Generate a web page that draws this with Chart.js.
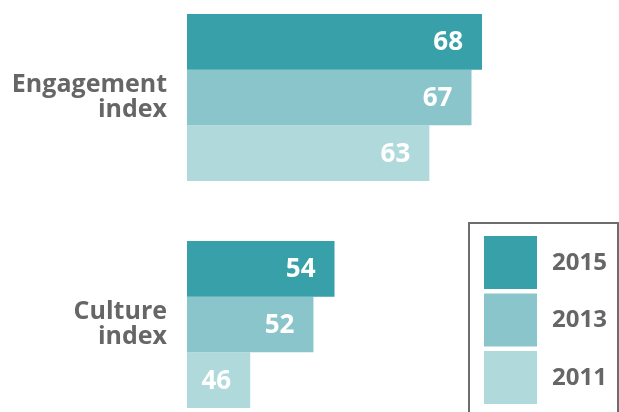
<!DOCTYPE html>
<html>
<head>
<meta charset="utf-8">
<script src="https://cdn.jsdelivr.net/npm/chart.js@4"></script>
<style>
  html, body { margin: 0; padding: 0; background: #fff; overflow: hidden; }
  .wrap { position: relative; width: 619px; height: 412px; overflow: hidden; }
  .chart-box { position: absolute; left: 0; top: -16px; width: 619px; height: 454px; }
</style>
</head>
<body>
<div class="wrap">
  <div class="chart-box"><canvas id="barChart"></canvas></div>
</div>
<script>
// データ
const categories = [['Engagement', 'index'], ['Culture', 'index']];
const years = ['2015', '2013', '2011'];
const values2015 = [68, 54];
const values2013 = [67, 52];
const values2011 = [63, 46];
const colors = ['#37a0a8', '#89c5ca', '#b0d9dc'];

const FONT = '"Open Sans", sans-serif';
const GREY = '#666666';

// バーの中に白い数値を描く
const valueLabels = {
  id: 'valueLabels',
  afterDatasetsDraw(chart) {
    const ctx = chart.ctx;
    ctx.save();
    ctx.font = 'bold 26px ' + FONT;
    ctx.fillStyle = '#fff';
    ctx.textAlign = 'right';
    ctx.textBaseline = 'middle';
    chart.data.datasets.forEach((ds, i) => {
      chart.getDatasetMeta(i).data.forEach((bar, j) => {
        ctx.fillText(String(ds.data[j]), bar.x - 19, bar.y + 1);
      });
    });
    ctx.restore();
  }
};

// 枠付きの凡例（右下）
const boxLegend = {
  id: 'boxLegend',
  afterDraw(chart) {
    const ctx = chart.ctx;
    const off = 16; // canvas is shifted up by 16px
    ctx.save();
    ctx.strokeStyle = '#6d6d6d';
    ctx.lineWidth = 2;
    ctx.strokeRect(469, 223 + off, 149, 240);
    ctx.font = 'bold 24px ' + FONT;
    ctx.textAlign = 'left';
    ctx.textBaseline = 'middle';
    chart.data.datasets.forEach((ds, i) => {
      const y = 236 + i * 57.5 + off;
      ctx.fillStyle = ds.backgroundColor;
      ctx.fillRect(484, y, 53, 53);
      ctx.fillStyle = GREY;
      ctx.fillText(ds.label, 552, y + 27);
    });
    ctx.restore();
  }
};

new Chart(document.getElementById('barChart'), {
  type: 'bar',
  data: {
    labels: categories,
    datasets: [
      { label: years[0], data: values2015, backgroundColor: colors[0] },
      { label: years[1], data: values2013, backgroundColor: colors[1] },
      { label: years[2], data: values2011, backgroundColor: colors[2] }
    ]
  },
  options: {
    indexAxis: 'y',
    responsive: true,
    maintainAspectRatio: false,
    animation: false,
    layout: { padding: 0 },
    datasets: {
      bar: { categoryPercentage: 0.736, barPercentage: 1.0, borderWidth: 0 }
    },
    scales: {
      x: { display: false, min: 40, max: 81 },
      y: {
        afterFit: s => {
          s.width = 187;
          s.paddingTop = 0;
          s.paddingBottom = 0;
        },
        grid: { display: false, drawTicks: false },
        border: { display: false },
        ticks: {
          padding: 20,
          color: GREY,
          font: { family: FONT, size: 25, weight: 'bold', lineHeight: 1.0 }
        }
      }
    },
    plugins: {
      legend: { display: false },
      tooltip: { enabled: false }
    }
  },
  plugins: [valueLabels, boxLegend]
});
</script>
</body>
</html>
